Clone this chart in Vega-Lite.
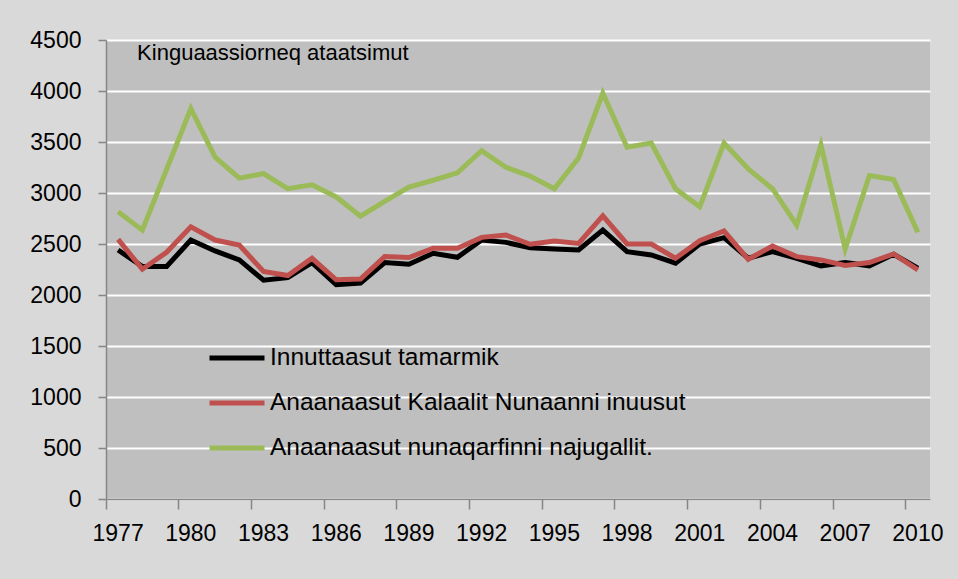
{
  "$schema": "https://vega.github.io/schema/vega-lite/v6.json",
  "width": 824,
  "height": 459,
  "autosize": {"type": "none"},
  "padding": {"left": 106, "top": 40, "right": 28, "bottom": 80},
  "background": "#d9d9d9",
  "config": {
    "view": {"fill": "#bfbfbf", "stroke": null},
    "font": "Liberation Sans"
  },
  "datasets": {
    "note": [{"year": 1977, "value": 4370, "label": "Kinguaassiorneq ataatsimut"}]
  },
  "data": {"values": [
    {"year":1977,"series":"Innuttaasut tamarmik","value":2441},
    {"year":1978,"series":"Innuttaasut tamarmik","value":2279},
    {"year":1979,"series":"Innuttaasut tamarmik","value":2279},
    {"year":1980,"series":"Innuttaasut tamarmik","value":2539},
    {"year":1981,"series":"Innuttaasut tamarmik","value":2432},
    {"year":1982,"series":"Innuttaasut tamarmik","value":2344},
    {"year":1983,"series":"Innuttaasut tamarmik","value":2145},
    {"year":1984,"series":"Innuttaasut tamarmik","value":2170},
    {"year":1985,"series":"Innuttaasut tamarmik","value":2318},
    {"year":1986,"series":"Innuttaasut tamarmik","value":2100},
    {"year":1987,"series":"Innuttaasut tamarmik","value":2117},
    {"year":1988,"series":"Innuttaasut tamarmik","value":2318},
    {"year":1989,"series":"Innuttaasut tamarmik","value":2302},
    {"year":1990,"series":"Innuttaasut tamarmik","value":2409},
    {"year":1991,"series":"Innuttaasut tamarmik","value":2370},
    {"year":1992,"series":"Innuttaasut tamarmik","value":2539},
    {"year":1993,"series":"Innuttaasut tamarmik","value":2516},
    {"year":1994,"series":"Innuttaasut tamarmik","value":2464},
    {"year":1995,"series":"Innuttaasut tamarmik","value":2451},
    {"year":1996,"series":"Innuttaasut tamarmik","value":2441},
    {"year":1997,"series":"Innuttaasut tamarmik","value":2636},
    {"year":1998,"series":"Innuttaasut tamarmik","value":2425},
    {"year":1999,"series":"Innuttaasut tamarmik","value":2393},
    {"year":2000,"series":"Innuttaasut tamarmik","value":2312},
    {"year":2001,"series":"Innuttaasut tamarmik","value":2500},
    {"year":2002,"series":"Innuttaasut tamarmik","value":2562},
    {"year":2003,"series":"Innuttaasut tamarmik","value":2360},
    {"year":2004,"series":"Innuttaasut tamarmik","value":2425},
    {"year":2005,"series":"Innuttaasut tamarmik","value":2360},
    {"year":2006,"series":"Innuttaasut tamarmik","value":2286},
    {"year":2007,"series":"Innuttaasut tamarmik","value":2318},
    {"year":2008,"series":"Innuttaasut tamarmik","value":2286},
    {"year":2009,"series":"Innuttaasut tamarmik","value":2399},
    {"year":2010,"series":"Innuttaasut tamarmik","value":2263},
    {"year":1977,"series":"Anaanaasut Kalaalit Nunaanni inuusut","value":2545},
    {"year":1978,"series":"Anaanaasut Kalaalit Nunaanni inuusut","value":2253},
    {"year":1979,"series":"Anaanaasut Kalaalit Nunaanni inuusut","value":2419},
    {"year":1980,"series":"Anaanaasut Kalaalit Nunaanni inuusut","value":2669},
    {"year":1981,"series":"Anaanaasut Kalaalit Nunaanni inuusut","value":2539},
    {"year":1982,"series":"Anaanaasut Kalaalit Nunaanni inuusut","value":2490},
    {"year":1983,"series":"Anaanaasut Kalaalit Nunaanni inuusut","value":2230},
    {"year":1984,"series":"Anaanaasut Kalaalit Nunaanni inuusut","value":2191},
    {"year":1985,"series":"Anaanaasut Kalaalit Nunaanni inuusut","value":2360},
    {"year":1986,"series":"Anaanaasut Kalaalit Nunaanni inuusut","value":2149},
    {"year":1987,"series":"Anaanaasut Kalaalit Nunaanni inuusut","value":2156},
    {"year":1988,"series":"Anaanaasut Kalaalit Nunaanni inuusut","value":2377},
    {"year":1989,"series":"Anaanaasut Kalaalit Nunaanni inuusut","value":2367},
    {"year":1990,"series":"Anaanaasut Kalaalit Nunaanni inuusut","value":2458},
    {"year":1991,"series":"Anaanaasut Kalaalit Nunaanni inuusut","value":2458},
    {"year":1992,"series":"Anaanaasut Kalaalit Nunaanni inuusut","value":2565},
    {"year":1993,"series":"Anaanaasut Kalaalit Nunaanni inuusut","value":2588},
    {"year":1994,"series":"Anaanaasut Kalaalit Nunaanni inuusut","value":2497},
    {"year":1995,"series":"Anaanaasut Kalaalit Nunaanni inuusut","value":2529},
    {"year":1996,"series":"Anaanaasut Kalaalit Nunaanni inuusut","value":2506},
    {"year":1997,"series":"Anaanaasut Kalaalit Nunaanni inuusut","value":2776},
    {"year":1998,"series":"Anaanaasut Kalaalit Nunaanni inuusut","value":2500},
    {"year":1999,"series":"Anaanaasut Kalaalit Nunaanni inuusut","value":2500},
    {"year":2000,"series":"Anaanaasut Kalaalit Nunaanni inuusut","value":2360},
    {"year":2001,"series":"Anaanaasut Kalaalit Nunaanni inuusut","value":2532},
    {"year":2002,"series":"Anaanaasut Kalaalit Nunaanni inuusut","value":2627},
    {"year":2003,"series":"Anaanaasut Kalaalit Nunaanni inuusut","value":2350},
    {"year":2004,"series":"Anaanaasut Kalaalit Nunaanni inuusut","value":2480},
    {"year":2005,"series":"Anaanaasut Kalaalit Nunaanni inuusut","value":2376},
    {"year":2006,"series":"Anaanaasut Kalaalit Nunaanni inuusut","value":2344},
    {"year":2007,"series":"Anaanaasut Kalaalit Nunaanni inuusut","value":2289},
    {"year":2008,"series":"Anaanaasut Kalaalit Nunaanni inuusut","value":2318},
    {"year":2009,"series":"Anaanaasut Kalaalit Nunaanni inuusut","value":2402},
    {"year":2010,"series":"Anaanaasut Kalaalit Nunaanni inuusut","value":2247},
    {"year":1977,"series":"Anaanaasut nunaqarfinni najugallit.","value":2815},
    {"year":1978,"series":"Anaanaasut nunaqarfinni najugallit.","value":2636},
    {"year":1979,"series":"Anaanaasut nunaqarfinni najugallit.","value":3230},
    {"year":1980,"series":"Anaanaasut nunaqarfinni najugallit.","value":3828},
    {"year":1981,"series":"Anaanaasut nunaqarfinni najugallit.","value":3351},
    {"year":1982,"series":"Anaanaasut nunaqarfinni najugallit.","value":3146},
    {"year":1983,"series":"Anaanaasut nunaqarfinni najugallit.","value":3190},
    {"year":1984,"series":"Anaanaasut nunaqarfinni najugallit.","value":3042},
    {"year":1985,"series":"Anaanaasut nunaqarfinni najugallit.","value":3081},
    {"year":1986,"series":"Anaanaasut nunaqarfinni najugallit.","value":2961},
    {"year":1987,"series":"Anaanaasut nunaqarfinni najugallit.","value":2773},
    {"year":1988,"series":"Anaanaasut nunaqarfinni najugallit.","value":2919},
    {"year":1989,"series":"Anaanaasut nunaqarfinni najugallit.","value":3058},
    {"year":1990,"series":"Anaanaasut nunaqarfinni najugallit.","value":3125},
    {"year":1991,"series":"Anaanaasut nunaqarfinni najugallit.","value":3198},
    {"year":1992,"series":"Anaanaasut nunaqarfinni najugallit.","value":3416},
    {"year":1993,"series":"Anaanaasut nunaqarfinni najugallit.","value":3253},
    {"year":1994,"series":"Anaanaasut nunaqarfinni najugallit.","value":3166},
    {"year":1995,"series":"Anaanaasut nunaqarfinni najugallit.","value":3042},
    {"year":1996,"series":"Anaanaasut nunaqarfinni najugallit.","value":3344},
    {"year":1997,"series":"Anaanaasut nunaqarfinni najugallit.","value":3980},
    {"year":1998,"series":"Anaanaasut nunaqarfinni najugallit.","value":3448},
    {"year":1999,"series":"Anaanaasut nunaqarfinni najugallit.","value":3490},
    {"year":2000,"series":"Anaanaasut nunaqarfinni najugallit.","value":3042},
    {"year":2001,"series":"Anaanaasut nunaqarfinni najugallit.","value":2864},
    {"year":2002,"series":"Anaanaasut nunaqarfinni najugallit.","value":3490},
    {"year":2003,"series":"Anaanaasut nunaqarfinni najugallit.","value":3237},
    {"year":2004,"series":"Anaanaasut nunaqarfinni najugallit.","value":3042},
    {"year":2005,"series":"Anaanaasut nunaqarfinni najugallit.","value":2685},
    {"year":2006,"series":"Anaanaasut nunaqarfinni najugallit.","value":3471},
    {"year":2007,"series":"Anaanaasut nunaqarfinni najugallit.","value":2451},
    {"year":2008,"series":"Anaanaasut nunaqarfinni najugallit.","value":3172},
    {"year":2009,"series":"Anaanaasut nunaqarfinni najugallit.","value":3133},
    {"year":2010,"series":"Anaanaasut nunaqarfinni najugallit.","value":2614}
  ]},
  "layer": [
    {
      "mark": {"type": "line", "strokeWidth": 5, "strokeJoin": "miter", "strokeCap": "butt"},
      "encoding": {
        "x": {
          "field": "year", "type": "ordinal",
          "scale": {"type": "band", "paddingInner": 0, "paddingOuter": 0},
          "axis": {
            "title": null,
            "values": [1977, 1980, 1983, 1986, 1989, 1992, 1995, 1998, 2001, 2004, 2007, 2010],
            "bandPosition": 0,
            "labelOffset": 0,
            "labelAngle": 0,
            "labelFont": "Liberation Sans",
            "labelFontSize": 23,
            "labelColor": "#000000",
            "labelPadding": 13,
            "tickSize": 10,
            "tickColor": "#868686",
            "tickWidth": 1.5,
            "domainColor": "#868686",
            "domainWidth": 1.5,
            "grid": false
          }
        },
        "y": {
          "field": "value", "type": "quantitative",
          "scale": {"domain": [0, 4500], "nice": false, "zero": true},
          "axis": {
            "title": null,
            "format": "d",
            "values": [0, 500, 1000, 1500, 2000, 2500, 3000, 3500, 4000, 4500],
            "labelFont": "Liberation Sans",
            "labelFontSize": 23,
            "labelColor": "#000000",
            "labelPadding": 17,
            "tickSize": 8,
            "tickColor": "#868686",
            "tickWidth": 1.5,
            "domainColor": "#868686",
            "domainWidth": 1.5,
            "grid": true,
            "gridColor": "#ffffff",
            "gridWidth": 2,
            "gridOpacity": 1
          }
        },
        "color": {
          "field": "series", "type": "nominal",
          "scale": {
            "domain": ["Innuttaasut tamarmik", "Anaanaasut Kalaalit Nunaanni inuusut", "Anaanaasut nunaqarfinni najugallit."],
            "range": ["#000000", "#c0504d", "#9bbb59"]
          },
          "legend": {
            "title": null,
            "orient": "none",
            "legendX": 101,
            "legendY": 288,
            "padding": 0,
            "symbolType": "stroke",
            "symbolSize": 3025,
            "symbolStrokeWidth": 5,
            "labelFont": "Liberation Sans",
            "labelFontSize": 24.5,
            "labelColor": "#000000",
            "labelOffset": 3,
            "labelLimit": 700,
            "rowPadding": 3
          }
        }
      }
    },
    {
      "data": {"name": "note"},
      "mark": {"type": "text", "align": "left", "baseline": "middle", "dx": 19, "fontSize": 22, "font": "Liberation Sans", "color": "#000000"},
      "encoding": {
        "x": {"field": "year", "type": "ordinal"},
        "y": {"field": "value", "type": "quantitative"},
        "text": {"field": "label"}
      }
    }
  ]
}
